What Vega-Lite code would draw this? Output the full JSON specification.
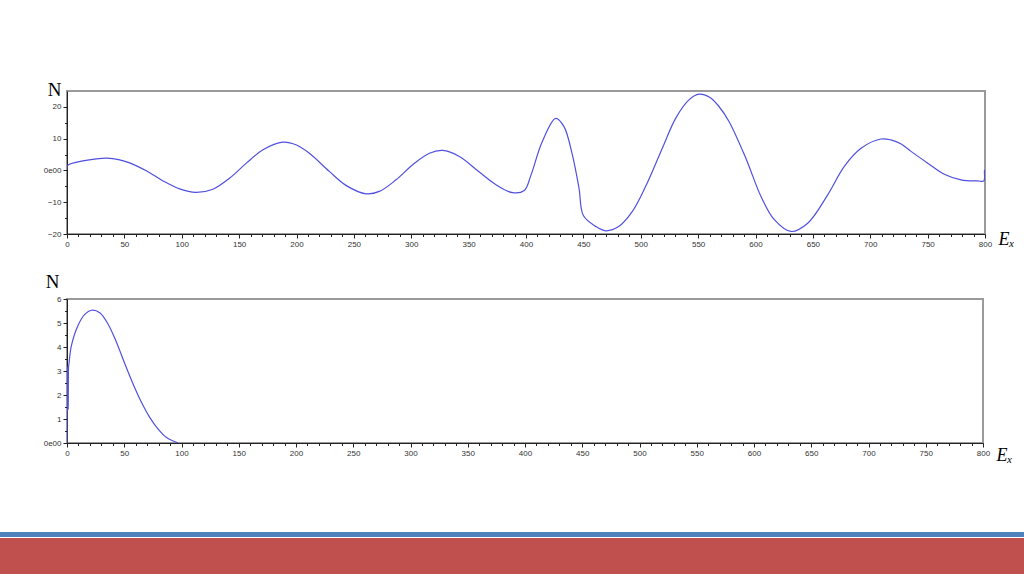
{
  "$schema": "https://vega.github.io/schema/vega-lite/v6.json",
  "background": "white",
  "padding": {"left": 0, "top": 79, "right": 0, "bottom": 0},
  "spacing": 67,
  "datasets": {
    "top": [
      {"E": 0, "N": 0.2}, {"E": 0.6, "N": 1.6}, {"E": 14, "N": 3.0}, {"E": 25.6, "N": 3.65}, {"E": 35, "N": 3.85},
      {"E": 45, "N": 3.4}, {"E": 54.6, "N": 2.4}, {"E": 69.1, "N": -0.1}, {"E": 83.7, "N": -3.3}, {"E": 98.2, "N": -5.8},
      {"E": 112, "N": -6.9}, {"E": 127.2, "N": -5.9}, {"E": 141.8, "N": -2.4}, {"E": 156.3, "N": 2.3},
      {"E": 170.8, "N": 6.5}, {"E": 188, "N": 8.9}, {"E": 200, "N": 8.0}, {"E": 211.2, "N": 5.4}, {"E": 228.6, "N": -0.3},
      {"E": 243.1, "N": -4.7}, {"E": 260.6, "N": -7.35}, {"E": 272.2, "N": -6.6}, {"E": 286.7, "N": -2.95}, {"E": 301.3, "N": 1.8},
      {"E": 315.8, "N": 5.4}, {"E": 327.4, "N": 6.3}, {"E": 341.9, "N": 4.4}, {"E": 359.3, "N": -0.5}, {"E": 373.9, "N": -4.5},
      {"E": 388.4, "N": -7.0}, {"E": 398.5, "N": -6.3}, {"E": 404.4, "N": -1.4}, {"E": 414.2, "N": 9.1}, {"E": 425.9, "N": 16.4},
      {"E": 433.1, "N": 13.8}, {"E": 440.4, "N": 4.9}, {"E": 446.2, "N": -5.6}, {"E": 450, "N": -14.2}, {"E": 460.7, "N": -17.6},
      {"E": 469.4, "N": -19.0}, {"E": 481, "N": -17.6}, {"E": 492.7, "N": -12.9}, {"E": 504.3, "N": -5.0}, {"E": 518.8, "N": 7.0},
      {"E": 530.4, "N": 16.4}, {"E": 542, "N": 22.2}, {"E": 550.8, "N": 24.0}, {"E": 560, "N": 23.0}, {"E": 568, "N": 20.2}, {"E": 576.9, "N": 15.4},
      {"E": 591.5, "N": 3.9}, {"E": 604.8, "N": -8.2}, {"E": 616.4, "N": -15.5}, {"E": 630.9, "N": -19.2}, {"E": 645.5, "N": -16.6},
      {"E": 662.9, "N": -7.7}, {"E": 677.4, "N": 1.3}, {"E": 692, "N": 7.0}, {"E": 709.4, "N": 9.9}, {"E": 718, "N": 9.6},
      {"E": 727, "N": 8.3}, {"E": 735.5, "N": 6.0}, {"E": 750.1, "N": 2.3}, {"E": 764.5, "N": -1.2}, {"E": 779.1, "N": -2.95}, {"E": 793.6, "N": -3.3},
      {"E": 799.0, "N": -3.3}, {"E": 799.6, "N": 0}, {"E": 800, "N": 0.1}
    ],
    "bottom": [
      {"E": 0, "N": 0}, {"E": 0.2, "N": 3.2}, {"E": 0.5, "N": 1.3}, {"E": 0.8, "N": 3.1}, {"E": 1.1, "N": 1.4},
      {"E": 1.4, "N": 3.2}, {"E": 1.7, "N": 3.3}, {"E": 3.8, "N": 4.05}, {"E": 9.6, "N": 4.9}, {"E": 15.5, "N": 5.36},
      {"E": 21.3, "N": 5.53}, {"E": 28.6, "N": 5.43}, {"E": 35.9, "N": 4.95}, {"E": 43.2, "N": 4.2}, {"E": 50.5, "N": 3.3},
      {"E": 57.8, "N": 2.45}, {"E": 65, "N": 1.7}, {"E": 72.4, "N": 1.06}, {"E": 79.6, "N": 0.58}, {"E": 86.9, "N": 0.23},
      {"E": 94.3, "N": 0.05}, {"E": 97, "N": 0}
    ],
    "spacer": [{"part": "left margin"}],
    "accent": [{"part": "accent line"}],
    "band": [{"part": "footer band"}]
  },
  "vconcat": [
    {
      "spacing": 25,
      "hconcat": [
        {
          "width": 1,
          "height": 10,
          "data": {"name": "spacer"},
          "view": {"stroke": null},
          "mark": {"type": "rect", "opacity": 0},
          "encoding": {
            "x": {"datum": 0, "type": "quantitative", "scale": {"domain": [0, 1], "nice": false}, "axis": null},
            "x2": {"datum": 1},
            "y": {"datum": 0, "type": "quantitative", "scale": {"domain": [0, 1], "nice": false}, "axis": null},
            "y2": {"datum": 1}
          }
        },
        {
          "spacing": 22,
          "vconcat": [
            {
              "width": 918,
              "height": 143,
              "data": {"name": "top"},
              "view": {"stroke": "#9a9a9a", "strokeWidth": 2},
              "mark": {"type": "line", "color": "#5050e0", "strokeWidth": 1.2, "interpolate": "catmull-rom", "clip": true},
              "encoding": {
                "x": {
                  "field": "E", "type": "quantitative",
                  "scale": {"domain": [0, 800], "nice": false, "zero": false},
                  "axis": {
                    "values": [0,10,20,30,40,50,60,70,80,90,100,110,120,130,140,150,160,170,180,190,200,210,220,230,240,250,260,270,280,290,300,310,320,330,340,350,360,370,380,390,400,410,420,430,440,450,460,470,480,490,500,510,520,530,540,550,560,570,580,590,600,610,620,630,640,650,660,670,680,690,700,710,720,730,740,750,760,770,780,790,800],
                    "labelExpr": "datum.value % 50 === 0 ? datum.label : ''",
                    "tickSize": {"condition": {"test": "datum.value % 50 === 0", "value": 4}, "value": 2.5},
                    "title": "Eₓ", "titleX": 931, "titleY": 10
                  }
                },
                "y": {
                  "field": "N", "type": "quantitative",
                  "scale": {"domain": [-20, 25], "nice": false, "zero": false},
                  "axis": {
                    "values": [-20,-15,-10,-5,0,5,10,15,20],
                    "labelExpr": "datum.value === 0 ? '0e00' : (datum.value % 10 === 0 ? format(datum.value, 'd') : '')",
                    "tickSize": {"condition": {"test": "datum.value % 10 === 0", "value": 4}, "value": 2.5},
                    "minExtent": 40, "maxExtent": 40,
                    "title": "N", "titleX": -13, "titleY": 4
                  }
                }
              }
            },
            {
              "width": 916,
              "height": 144,
              "data": {"name": "bottom"},
              "view": {"stroke": "#9a9a9a", "strokeWidth": 2},
              "mark": {"type": "line", "color": "#5050e0", "strokeWidth": 1.2, "interpolate": "catmull-rom", "clip": true},
              "encoding": {
                "x": {
                  "field": "E", "type": "quantitative",
                  "scale": {"domain": [0, 800], "nice": false, "zero": false},
                  "axis": {
                    "values": [0,10,20,30,40,50,60,70,80,90,100,110,120,130,140,150,160,170,180,190,200,210,220,230,240,250,260,270,280,290,300,310,320,330,340,350,360,370,380,390,400,410,420,430,440,450,460,470,480,490,500,510,520,530,540,550,560,570,580,590,600,610,620,630,640,650,660,670,680,690,700,710,720,730,740,750,760,770,780,790,800],
                    "labelExpr": "datum.value % 50 === 0 ? datum.label : ''",
                    "tickSize": {"condition": {"test": "datum.value % 50 === 0", "value": 4}, "value": 2.5},
                    "title": "Eₓ", "titleX": 929, "titleY": 17
                  }
                },
                "y": {
                  "field": "N", "type": "quantitative",
                  "scale": {"domain": [0, 6], "nice": false, "zero": false},
                  "axis": {
                    "values": [0,0.5,1,1.5,2,2.5,3,3.5,4,4.5,5,5.5,6],
                    "labelExpr": "datum.value === 0 ? '0e00' : (datum.value % 1 === 0 ? format(datum.value, 'd') : '')",
                    "tickSize": {"condition": {"test": "datum.value % 1 === 0", "value": 4}, "value": 2.5},
                    "minExtent": 40, "maxExtent": 40,
                    "title": "N", "titleX": -15, "titleY": -12
                  }
                }
              }
            }
          ]
        }
      ]
    },
    {
      "spacing": 1,
      "vconcat": [
        {
          "width": 1024,
          "height": 5,
          "data": {"name": "accent"},
          "view": {"stroke": null},
          "mark": {"type": "rect", "color": "#4f81bd"},
          "encoding": {
            "x": {"datum": 0, "type": "quantitative", "scale": {"domain": [0, 1], "nice": false}, "axis": null},
            "x2": {"datum": 1},
            "y": {"datum": 0, "type": "quantitative", "scale": {"domain": [0, 1], "nice": false}, "axis": null},
            "y2": {"datum": 1}
          }
        },
        {
          "width": 1024,
          "height": 40,
          "data": {"name": "band"},
          "view": {"stroke": null},
          "mark": {"type": "rect", "color": "#c0504d"},
          "encoding": {
            "x": {"datum": 0, "type": "quantitative", "scale": {"domain": [0, 1], "nice": false}, "axis": null},
            "x2": {"datum": 1},
            "y": {"datum": 0, "type": "quantitative", "scale": {"domain": [0, 1], "nice": false}, "axis": null},
            "y2": {"datum": 1}
          }
        }
      ]
    }
  ],
  "config": {
    "axis": {
      "grid": false,
      "domainColor": "#222",
      "domainWidth": 1,
      "tickColor": "#222",
      "labelColor": "#333",
      "labelFont": "Liberation Sans",
      "labelFontSize": 8,
      "labelPadding": 2,
      "labelFlush": false,
      "labelOverlap": false,
      "titleFont": "Liberation Serif",
      "titleFontWeight": "normal",
      "titleColor": "#000",
      "titleAngle": 0
    },
    "axisX": {
      "titleFontSize": 18,
      "titleFontStyle": "italic",
      "titleAlign": "left",
      "titleBaseline": "alphabetic"
    },
    "axisY": {
      "titleFontSize": 19,
      "titleAlign": "center",
      "titleBaseline": "alphabetic"
    }
  }
}
